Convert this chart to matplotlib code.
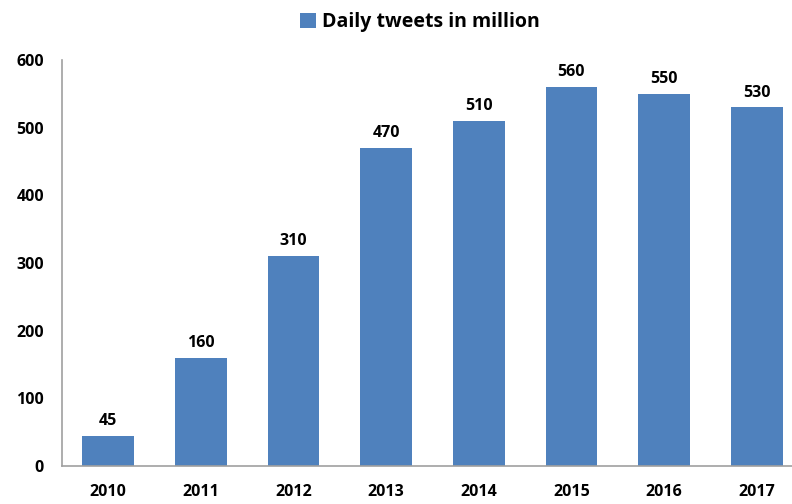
import matplotlib.pyplot as plt
import numpy as np

years = ['2010', '2011', '2012', '2013', '2014', '2015', '2016', '2017']
tweets = [45, 160, 310, 470, 510, 560, 550, 530]

plt.rcParams['font.family'] = ['Open Sans', 'DejaVu Sans']

fig = plt.figure(figsize=(7.92, 5.04), dpi=100)
ax = fig.add_axes([62 / 792, 1 - 466 / 504, 741 / 792, 406 / 504])

x = np.arange(len(years))
bars = ax.bar(x, tweets, width=0.56, color='#4F81BD', label='Daily tweets in million')

for xi, v in zip(x, tweets):
    ax.text(xi, v + 10, str(v), ha='center', va='bottom', fontsize=11.5, fontweight='bold')

ax.set_xlim(-0.5, 7.5)
ax.set_ylim(0, 600)
ax.set_yticks(range(0, 601, 100))
ax.set_xticks(x)
ax.set_xticklabels(years)
ax.tick_params(length=0, labelsize=11.5)
ax.tick_params(axis='y', pad=13)
ax.tick_params(axis='x', pad=13)
for lbl in ax.get_xticklabels() + ax.get_yticklabels():
    lbl.set_fontweight('bold')

for s in ['top', 'right']:
    ax.spines[s].set_visible(False)
for s in ['left', 'bottom']:
    ax.spines[s].set_color('#A0A0A0')
    ax.spines[s].set_linewidth(1.2)

fig.legend(handles=[bars], loc='upper center', bbox_to_anchor=(0.53, 1.01), frameon=False,
           prop={'size': 14, 'weight': 'bold'}, handlelength=0.8, handleheight=0.8,
           handletextpad=0.3)

fig.savefig('out.png', dpi=100)
